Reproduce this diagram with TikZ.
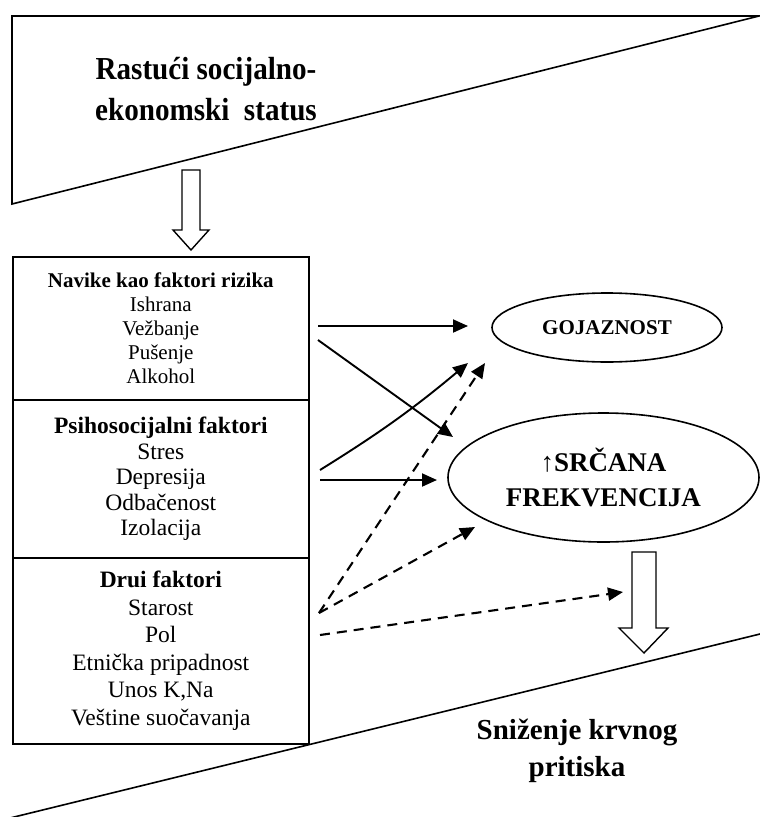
\documentclass[tikz,border=0pt]{standalone}
\usepackage{fontspec}
\setmainfont{Liberation Serif}
\usetikzlibrary{shapes.geometric,arrows.meta}
\begin{document}
\begin{tikzpicture}[x=1pt,y=-1pt,
  edge/.style={line width=1.6pt,line join=miter},
  boxsec/.style={draw,line width=1.6pt,minimum width=296pt,anchor=north west,inner sep=0pt,align=center},
  oval/.style={draw,ellipse,line width=1.6pt,inner sep=0pt,align=center},
  solidarr/.style={line width=1.9pt,-{Triangle[length=15pt,width=13pt]}},
  dasharr/.style={line width=2.1pt,dash pattern=on 10pt off 7pt,-{Triangle[length=15pt,width=13pt]}},
  hollow/.style={draw,line width=1.4pt,fill=white,line join=miter},
]
\useasboundingbox (0,0) rectangle (760,817);

% top wedge
\draw[edge] (12,16) -- (759,16) -- (12,204) -- cycle;
\node[font=\fontsize{32}{41}\selectfont\bfseries,align=center,xscale=0.91,transform shape] (top) at (206,89) {Rastući socijalno-\\ekonomski\ \ status};

% bottom wedge line
\draw[edge] (10,818) -- (760,634);
\node[font=\fontsize{29}{37}\selectfont\bfseries,align=center] (bot) at (577,751) {Sniženje krvnog\\pritiska};

% hollow arrows
\draw[hollow] (182,170) -- (200,170) -- (200,230) -- (209,230) -- (191,250) -- (173,230) -- (182,230) -- cycle;
\draw[hollow] (632,552) -- (656,552) -- (656,628) -- (668,628) -- (644,653) -- (619,628) -- (632,628) -- cycle;

% factor boxes
\node[boxsec,minimum height=143pt,font=\fontsize{21}{24}\selectfont] (b1) at (12,256)
  {\textbf{Navike kao faktori rizika}\\Ishrana\\Vežbanje\\Pušenje\\Alkohol};
\node[boxsec,minimum height=158pt,font=\fontsize{23.5}{25.5}\selectfont] (b2) at (12,399)
  {\textbf{Psihosocijalni faktori}\\Stres\\Depresija\\Odbačenost\\Izolacija};
\node[boxsec,minimum height=186pt,font=\fontsize{23.5}{27.5}\selectfont] (b3) at (12,557)
  {\textbf{Drui faktori}\\Starost\\Pol\\Etnička pripadnost\\Unos K,Na\\Veštine suočavanja};

% outcome ellipses
\node[oval,minimum width=230pt,minimum height=69pt,font=\fontsize{21}{24}\selectfont\bfseries] (g) at (607,327.5) {GOJAZNOST};
\node[oval,minimum width=311pt,minimum height=129pt,font=\fontsize{27}{35}\selectfont\bfseries] (s) at (603.5,477.5) {{\mdseries ↑}SRČANA\\FREKVENCIJA};

% connector ends
\coordinate (a1s) at (318,326); \coordinate (a1e) at (468,326);
\coordinate (a2s) at (318,340); \coordinate (a2e) at (453,437);
\coordinate (a3s) at (320,470); \coordinate (a3e) at (468,363);
\coordinate (a4s) at (320,480); \coordinate (a4e) at (437,480);
\coordinate (d0) at (319,613);
\coordinate (d1e) at (485,363);
\coordinate (d2e) at (475,527);
\coordinate (d3s) at (320,635); \coordinate (d3e) at (623,592);

\draw[solidarr] (a1s) -- (a1e);
\draw[solidarr] (a2s) -- (a2e);
\draw[solidarr] (a3s) to[bend right=4] (a3e);
\draw[solidarr] (a4s) -- (a4e);
\draw[dasharr] (d0) -- (d1e);
\draw[dasharr] (d0) -- (d2e);
\draw[dasharr] (d3s) -- (d3e);
\end{tikzpicture}
\end{document}
